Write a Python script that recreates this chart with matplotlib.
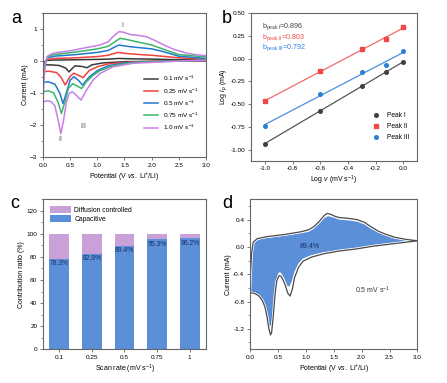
import matplotlib
matplotlib.use("Agg")
import matplotlib.pyplot as plt
import numpy as np
from matplotlib.ticker import MultipleLocator, FormatStrFormatter

plt.rcParams['font.family'] = ['Liberation Sans', 'DejaVu Sans']
plt.rcParams['mathtext.fontset'] = 'custom'
plt.rcParams['mathtext.rm'] = 'Liberation Sans'
plt.rcParams['mathtext.it'] = 'Liberation Sans:italic'

# ---- panel a: CV curves at different scan rates (V, mA)
rate_labels = ['0.1 mV s$^{-1}$', '0.25 mV s$^{-1}$', '0.5 mV s$^{-1}$',
               '0.75 mV s$^{-1}$', '1.0 mV s$^{-1}$']
rate_colors = ['#3a3a3a', '#f04040', '#1f78d1', '#3bb56a', '#c77fe6']

cv_01_v = [0.0, 0.03, 0.08, 0.2, 0.6, 1.0, 1.2, 1.4, 1.6, 2.0, 2.5, 3.0,
           3.0, 2.5, 2.0, 1.5, 1.1, 0.9, 0.81, 0.72, 0.59, 0.53, 0.48, 0.42, 0.3, 0.15, 0.0]
cv_01_i = [-0.12, -0.02, 0.02, 0.03, 0.04, 0.05, 0.06, 0.08, 0.07, 0.06, 0.04, 0.03,
           0.0, 0.0, -0.01, -0.02, -0.06, -0.12, -0.21, -0.17, -0.15, -0.25, -0.34, -0.22, -0.14, -0.12, -0.12]

cv_025_v = [0.0, 0.03, 0.08, 0.2, 0.6, 1.0, 1.2, 1.38, 1.5, 1.8, 2.0, 2.5, 3.0,
            3.0, 2.5, 2.0, 1.5, 1.2, 1.0, 0.85, 0.74, 0.66, 0.57, 0.5, 0.41, 0.33, 0.25, 0.12, 0.0]
cv_025_i = [-0.33, -0.05, 0.05, 0.08, 0.1, 0.14, 0.18, 0.27, 0.24, 0.2, 0.18, 0.1, 0.05,
            0.01, 0.0, -0.01, -0.04, -0.09, -0.18, -0.3, -0.52, -0.45, -0.38, -0.48, -0.75, -0.5, -0.36, -0.32, -0.33]

cv_05_v = [0.0, 0.03, 0.08, 0.2, 0.6, 1.0, 1.2, 1.3, 1.4, 1.5, 1.7, 2.0, 2.2, 2.5, 3.0,
           3.0, 2.5, 2.0, 1.5, 1.2, 1.0, 0.85, 0.73, 0.65, 0.57, 0.5, 0.43, 0.37, 0.31, 0.22, 0.1, 0.0]
cv_05_i = [-0.67, -0.1, 0.1, 0.15, 0.2, 0.27, 0.33, 0.42, 0.5, 0.47, 0.43, 0.38, 0.3, 0.15, 0.08,
           0.02, 0.0, -0.02, -0.06, -0.15, -0.3, -0.5, -0.75, -0.6, -0.49, -0.6, -1.0, -1.33, -1.0, -0.72, -0.65, -0.67]

cv_075_v = [0.0, 0.03, 0.08, 0.2, 0.6, 1.0, 1.2, 1.32, 1.42, 1.52, 1.7, 2.0, 2.2, 2.5, 3.0,
            3.0, 2.5, 2.0, 1.66, 1.3, 1.05, 0.92, 0.8, 0.71, 0.63, 0.55, 0.47, 0.4, 0.34, 0.28, 0.2, 0.1, 0.0]
cv_075_i = [-0.96, -0.2, 0.14, 0.2, 0.28, 0.38, 0.46, 0.6, 0.71, 0.68, 0.61, 0.5, 0.38, 0.2, 0.13,
            0.02, 0.0, -0.02, -0.05, -0.14, -0.3, -0.45, -0.65, -0.86, -0.78, -0.71, -0.85, -1.3, -1.64, -1.3, -1.0, -0.93, -0.96]

cv_10_v = [0.0, 0.02, 0.05, 0.1, 0.2, 0.5, 0.8, 1.05, 1.2, 1.3, 1.4, 1.48, 1.6, 1.75, 1.9,
           2.05, 2.2, 2.4, 2.65, 2.85, 3.0,
           3.0, 2.5, 2.28, 1.66, 1.29, 1.05, 0.92, 0.8, 0.7, 0.62, 0.54, 0.48, 0.43, 0.38,
           0.33, 0.28, 0.22, 0.15, 0.08, 0.0]
cv_10_i = [-1.28, -0.6, 0.0, 0.17, 0.25, 0.32, 0.42, 0.5, 0.6, 0.78, 0.92, 0.9, 0.83, 0.8, 0.76,
           0.65, 0.52, 0.37, 0.24, 0.19, 0.17,
           0.02, 0.0, -0.02, -0.07, -0.18, -0.39, -0.6, -0.91, -1.22, -1.08, -0.96, -1.02, -1.3, -1.85,
           -2.27, -1.85, -1.4, -1.27, -1.24, -1.28]

# ---- panel b: log(peak current) vs log(scan rate)
scan_rates = [0.1, 0.25, 0.5, 0.75, 1.0]
log_i_peak1 = [-0.93, -0.575, -0.305, -0.145, -0.035]
log_i_peak2 = [-0.465, -0.14, 0.105, 0.215, 0.345]
log_i_peak3 = [-0.735, -0.39, -0.15, -0.07, 0.08]
b_values = ['0.896', '0.803', '0.792']

# ---- panel c: contribution ratio
rate_ticks = ['0.1', '0.25', '0.5', '0.75', '1']
capacitive = [78.3, 82.9, 89.4, 95.3, 96.2]

# ---- panel d: CV at 0.5 mV/s and capacitive part
total_v = [0.0, 0.01, 0.03, 0.06, 0.13, 0.3, 0.6, 0.9, 1.05, 1.15, 1.25, 1.33, 1.38, 1.44, 1.52,
           1.6, 1.75, 1.92, 2.05, 2.16, 2.3, 2.45, 2.6, 2.8, 3.0,
           3.0, 2.8, 2.5, 2.2, 1.9, 1.6, 1.32, 1.1, 0.95, 0.87, 0.8, 0.76, 0.72, 0.68, 0.62,
           0.56, 0.52, 0.48, 0.45, 0.42, 0.39, 0.37, 0.34, 0.31, 0.27, 0.22, 0.15, 0.08, 0.0]
total_i = [-0.67, -0.4, -0.1, 0.07, 0.12, 0.15, 0.18, 0.22, 0.25, 0.3, 0.38, 0.46, 0.49, 0.48, 0.45,
           0.43, 0.42, 0.4, 0.36, 0.3, 0.23, 0.18, 0.14, 0.11, 0.09,
           0.09, 0.07, 0.04, 0.01, -0.03, -0.06, -0.1, -0.15, -0.21, -0.3, -0.45, -0.62, -0.72, -0.68, -0.53,
           -0.43, -0.42, -0.5, -0.7, -1.0, -1.25, -1.29, -1.2, -1.04, -0.88, -0.78, -0.71, -0.68, -0.67]
cap_v = [0.0, 0.02, 0.05, 0.1, 0.2, 0.5, 0.9, 1.05, 1.15, 1.25, 1.33, 1.4, 1.5, 1.6, 1.75,
         1.92, 2.05, 2.16, 2.3, 2.45, 2.6, 2.8, 3.0,
         3.0, 2.8, 2.5, 2.2, 1.9, 1.6, 1.3, 1.1, 0.95, 0.87, 0.8, 0.75, 0.71, 0.67, 0.62,
         0.56, 0.52, 0.48, 0.45, 0.42, 0.38, 0.35, 0.32, 0.29, 0.25, 0.2, 0.13, 0.06, 0.0]
cap_i = [-0.64, -0.3, 0.0, 0.08, 0.12, 0.15, 0.2, 0.22, 0.27, 0.35, 0.42, 0.45, 0.43, 0.4, 0.39,
         0.37, 0.33, 0.27, 0.21, 0.16, 0.12, 0.1, 0.085,
         0.085, 0.075, 0.05, 0.02, -0.015, -0.045, -0.08, -0.12, -0.17, -0.24, -0.36, -0.5, -0.58, -0.57, -0.47,
         -0.38, -0.37, -0.44, -0.6, -0.85, -1.1, -1.17, -1.12, -0.95, -0.82, -0.74, -0.67, -0.65, -0.64]

spine_c = '#666666'
fs = 4.6


def style(ax):
    for s in ax.spines.values():
        s.set_color(spine_c)
        s.set_linewidth(0.8)
    ax.tick_params(labelsize=fs, length=2.5, width=0.6, color=spine_c, pad=1.5)
    ax.tick_params(which='minor', length=1.5, width=0.5, color=spine_c)


fig = plt.figure(figsize=(4.47, 3.83), dpi=100)
ax_a = fig.add_axes([0.096, 0.59, 0.365, 0.376])
ax_b = fig.add_axes([0.5615, 0.58, 0.3715, 0.386])
ax_c = fig.add_axes([0.096, 0.088, 0.365, 0.392])
ax_d = fig.add_axes([0.559, 0.088, 0.375, 0.392])

# a
curves = [(cv_01_v, cv_01_i), (cv_025_v, cv_025_i), (cv_05_v, cv_05_i),
          (cv_075_v, cv_075_i), (cv_10_v, cv_10_i)]
for (v, i), c, lab in zip(curves, rate_colors, rate_labels):
    ax_a.plot(v, i, color=c, lw=1.1, label=lab)
ax_a.set_xlim(0, 3)
ax_a.set_ylim(-3, 1.5)
ax_a.xaxis.set_major_locator(MultipleLocator(0.5))
ax_a.xaxis.set_major_formatter(FormatStrFormatter('%.1f'))
ax_a.yaxis.set_major_locator(MultipleLocator(1))
ax_a.yaxis.set_minor_locator(MultipleLocator(0.5))
ax_a.set_xlabel('Potential (V $vs.$ Li$^{+}$/Li)', fontsize=fs + 0.4, labelpad=2)
ax_a.set_ylabel('Current (mA)', fontsize=fs + 0.4, labelpad=1)
ax_a.text(1.47, 1.05, 'I', fontsize=fs + 0.5, color='#555555', ha='center')
ax_a.text(0.33, -2.5, 'II', fontsize=fs + 0.5, color='#555555', ha='center')
ax_a.text(0.74, -2.1, 'III', fontsize=fs + 0.5, color='#555555', ha='center')
ax_a.legend(loc='lower right', fontsize=fs, frameon=False, handlelength=2.2,
            labelspacing=0.45, borderaxespad=0.8, bbox_to_anchor=(1.0, 0.12))
style(ax_a)

# b
log_v = np.log10(scan_rates)
peaks = [log_i_peak1, log_i_peak2, log_i_peak3]
pcolors = ['#404040', '#f04848', '#2a7fd8']
lcolors = ['#555555', '#f06a6a', '#4a90dc']
pnames = ['Peak I', 'Peak II', 'Peak III']
markers = ['o', 's', 'o']
for y, c, lc, n, m in zip(peaks, pcolors, lcolors, pnames, markers):
    k, b0 = np.polyfit(log_v, y, 1)
    ax_b.plot(log_v, k * log_v + b0, color=lc, lw=0.9)
    ax_b.plot(log_v, y, m, color=c, ms=2.6, label=n, ls='none')
ax_b.set_xlim(-1.1, 0.1)
ax_b.set_ylim(-1.12, 0.5)
ax_b.xaxis.set_major_locator(MultipleLocator(0.2))
ax_b.xaxis.set_major_formatter(FormatStrFormatter('%.1f'))
ax_b.yaxis.set_major_locator(MultipleLocator(0.25))
ax_b.yaxis.set_major_formatter(FormatStrFormatter('%.2f'))
ax_b.set_xlabel('Log $v$ (mV s$^{-1}$)', fontsize=fs + 0.4, labelpad=2)
ax_b.set_ylabel('Log $i_{p}$ (mA)', fontsize=fs + 0.4, labelpad=1)
subs = ['I', 'II', 'III']
for k, (bv, c, s) in enumerate(zip(b_values, pcolors, subs)):
    ax_b.text(-1.02, 0.35 - 0.115 * k, 'b$_{\\mathrm{peak\\ ' + s + '}}$=' + bv,
              fontsize=fs + 0.5, color=c, va='center')
ax_b.legend(loc='lower right', fontsize=fs + 0.2, frameon=False, handletextpad=0.6,
            labelspacing=0.6, borderaxespad=0.8, bbox_to_anchor=(1.0, 0.08))
style(ax_b)

# c
xpos = np.arange(len(rate_ticks))
diffusion = [100 - c for c in capacitive]
ax_c.bar(xpos, capacitive, width=0.6, color='#5b8fd8', label='Capacitive')
ax_c.bar(xpos, diffusion, width=0.6, bottom=capacitive, color='#c9a0d8',
         label='Diffusion controlled')
for x, c in zip(xpos, capacitive):
    ax_c.text(x, c - 1.2, f'{c}%', ha='center', va='top', fontsize=fs + 0.3, color='#1a2f6a')
ax_c.set_xlim(-0.5, 4.5)
ax_c.set_ylim(0, 130)
ax_c.set_xticks(xpos)
ax_c.set_xticklabels(rate_ticks)
ax_c.yaxis.set_major_locator(MultipleLocator(20))
ax_c.yaxis.set_minor_locator(MultipleLocator(10))
ax_c.set_xlabel('Scan rate (mV s$^{-1}$)', fontsize=fs + 0.4, labelpad=2)
ax_c.set_ylabel('Contribution ratio (%)', fontsize=fs + 0.4, labelpad=1)
h, l = ax_c.get_legend_handles_labels()
ax_c.legend(h[::-1], l[::-1], loc='upper left', fontsize=fs + 0.3, frameon=False,
            handlelength=3.2, handleheight=1.2, labelspacing=0.15, borderaxespad=0.6,
            handletextpad=0.4)
style(ax_c)

# d
ax_d.fill(cap_v, cap_i, color='#5b8fd8', lw=0)
ax_d.plot(cap_v[-12:], cap_i[-12:], color='#2f6cc0', lw=0.8)
ax_d.plot(total_v, total_i, color='white', lw=2.0)
ax_d.plot(total_v, total_i, color='#4a4a4a', lw=0.9)
ax_d.set_xlim(0, 3)
ax_d.set_ylim(-1.5, 0.7)
ax_d.xaxis.set_major_locator(MultipleLocator(0.5))
ax_d.xaxis.set_major_formatter(FormatStrFormatter('%.1f'))
ax_d.yaxis.set_major_locator(MultipleLocator(0.4))
ax_d.yaxis.set_minor_locator(MultipleLocator(0.2))
ax_d.yaxis.set_major_formatter(FormatStrFormatter('%.1f'))
ax_d.text(1.07, 0.0, '89.4%', fontsize=fs + 0.5, color='#1a2f6a', ha='center', va='center')
ax_d.text(2.2, -0.64, '0.5 mV s$^{-1}$', fontsize=fs + 0.4, color='#333333', ha='center', va='center')
ax_d.set_xlabel('Potential (V $vs.$ Li$^{+}$/Li)', fontsize=fs + 0.4, labelpad=2)
ax_d.set_ylabel('Current (mA)', fontsize=fs + 0.4, labelpad=1)
style(ax_d)

for lab, x, y in [('a', 0.025, 0.975), ('b', 0.497, 0.975), ('c', 0.022, 0.49), ('d', 0.497, 0.49)]:
    fig.text(x, y, lab, fontsize=13, va='top', ha='left')

fig.savefig('out.png', dpi=100)
